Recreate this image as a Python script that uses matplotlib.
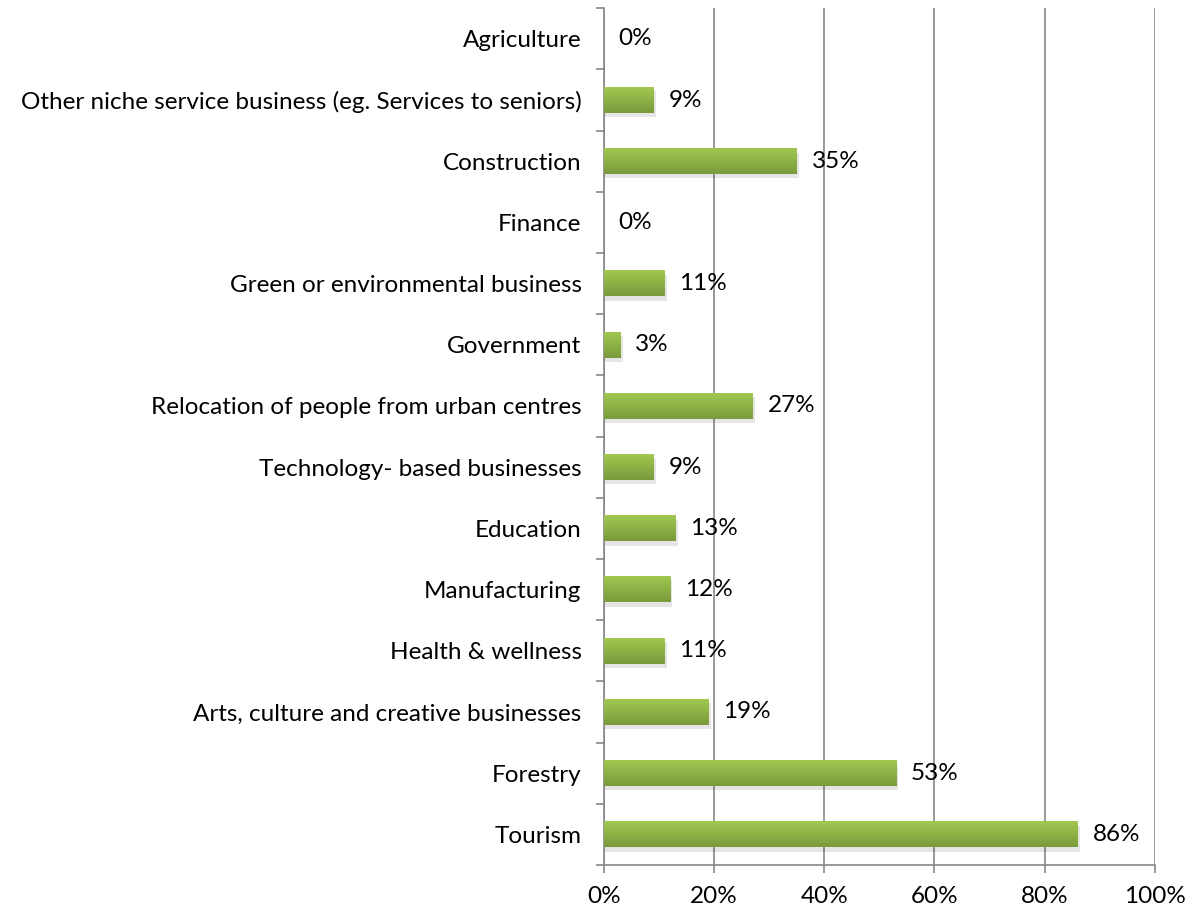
import matplotlib

matplotlib.use("Agg")
import matplotlib.pyplot as plt  # noqa: E402
import numpy as np  # noqa: E402
from matplotlib.colors import LinearSegmentedColormap  # noqa: E402

categories = [
    "Agriculture",
    "Other niche service business (eg. Services to seniors)",
    "Construction",
    "Finance",
    "Green or environmental business",
    "Government",
    "Relocation of people from urban centres",
    "Technology- based businesses",
    "Education",
    "Manufacturing",
    "Health & wellness",
    "Arts, culture and creative businesses",
    "Forestry",
    "Tourism",
]
values = [0, 9, 35, 0, 11, 3, 27, 9, 13, 12, 11, 19, 53, 86]
xticks = [0, 20, 40, 60, 80, 100]

plt.rcParams["font.family"] = ["Lato", "DejaVu Sans"]
FS = 17.5

fig = plt.figure(figsize=(11.98, 9.13), dpi=100)
ax = fig.add_axes([0.504, 0.0526, 0.46, 0.9384])

n = len(categories)
y = np.arange(n)
h = 0.42
green = LinearSegmentedColormap.from_list("green", ["#a2c850", "#7a9a3c"])
grad = np.linspace(0, 1, 64).reshape(-1, 1)

for yi, v in zip(y, values):
    if v > 0:
        # soft drop shadow under the bar
        ax.barh(yi + 0.07, v + 0.4, height=h, left=0.0, color="#000000",
                alpha=0.10, linewidth=0, zorder=2)
        ax.imshow(grad, cmap=green, aspect="auto", zorder=3,
                  extent=[0, v, yi + h / 2, yi - h / 2],
                  interpolation="bicubic")
    ax.text(v + 2.7, yi, f"{v}%", va="center", ha="left", fontsize=FS,
            color="#000000", zorder=4)

ax.set_xlim(0, 100)
ax.set_ylim(n - 0.5, -0.5)
ax.set_xticks(xticks)
ax.set_xticklabels([f"{t}%" for t in xticks], fontsize=FS)
ax.set_yticks(y)
ax.set_yticklabels(categories, fontsize=FS)
ax.set_yticks(np.arange(n + 1) - 0.5, minor=True)
ax.tick_params(axis="y", which="major", length=0, pad=16)
ax.tick_params(axis="y", which="minor", length=6, color="#888888", width=1.2)
ax.tick_params(axis="x", length=6, color="#888888", width=1.2, pad=9)
ax.grid(axis="x", color="#888888", linewidth=1.2, zorder=1)
ax.set_axisbelow(True)
for side in ("top", "right"):
    ax.spines[side].set_visible(False)
for side in ("left", "bottom"):
    ax.spines[side].set_color("#888888")
    ax.spines[side].set_linewidth(1.2)

fig.savefig("out.png", dpi=100)
